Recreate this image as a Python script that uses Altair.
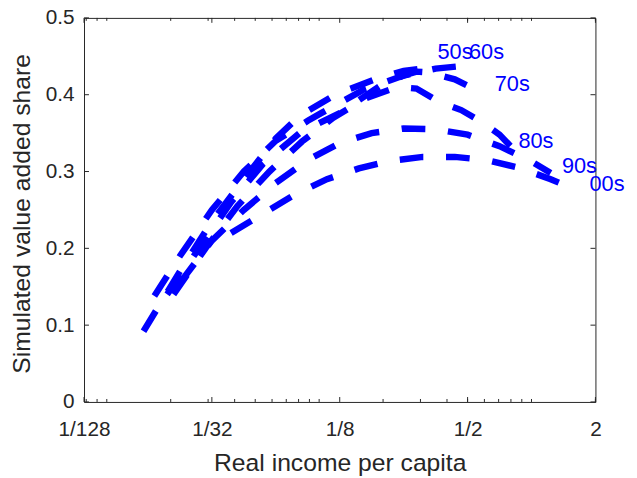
import altair as alt
import pandas as pd

# ---- data (relative income, simulated share) ----
inc_50s = [0.01489, 0.0221, 0.03125, 0.04419, 0.0625, 0.0813, 0.1207, 0.1961, 0.25, 0.35]
shr_50s = [0.092, 0.170, 0.235, 0.290, 0.343, 0.373, 0.401, 0.423, 0.431, 0.436]

inc_60s = [0.01675, 0.0221, 0.03125, 0.04419, 0.0625, 0.08839, 0.1022, 0.1604, 0.25, 0.3536, 0.5]
shr_60s = [0.138, 0.190, 0.250, 0.300, 0.340, 0.366, 0.376, 0.406, 0.425, 0.434, 0.438]

inc_70s = [0.01924, 0.0272, 0.03848, 0.05441, 0.08247, 0.125, 0.1975, 0.25, 0.2872, 0.3242, 0.4353, 0.5419, 0.6156]
shr_70s = [0.140, 0.200, 0.260, 0.310, 0.352, 0.376, 0.413, 0.425, 0.430, 0.429, 0.420, 0.407, 0.400]

inc_80s = [0.02062, 0.02916, 0.04123, 0.05831, 0.08302, 0.1166, 0.1649, 0.2333, 0.2872, 0.3648, 0.4665, 0.5715, 0.7071, 0.8706]
shr_80s = [0.140, 0.200, 0.255, 0.300, 0.339, 0.370, 0.395, 0.410, 0.408, 0.391, 0.380, 0.366, 0.348, 0.322]

inc_90s = [0.0221, 0.03125, 0.04419, 0.0625, 0.08839, 0.125, 0.1768, 0.25, 0.3536, 0.5, 0.7071, 1.0, 1.2311]
shr_90s = [0.155, 0.210, 0.250, 0.285, 0.315, 0.337, 0.350, 0.356, 0.355, 0.348, 0.333, 0.313, 0.298]

inc_00s = [0.03848, 0.05441, 0.07695, 0.1088, 0.1539, 0.2176, 0.3078, 0.4353, 0.6156, 0.8706, 1.2311, 1.6245]
shr_00s = [0.220, 0.245, 0.270, 0.290, 0.304, 0.314, 0.319, 0.319, 0.315, 0.305, 0.290, 0.276]

decades = ["50s", "60s", "70s", "80s", "90s", "00s"]
label_inc = [0.3610, 0.5078, 0.6714, 0.8675, 1.39, 1.875]
label_shr = [0.4557, 0.4557, 0.4132, 0.3393, 0.3072, 0.284]

x_major = [1/128, 1/32, 1/8, 1/2, 2]
x_minor = [0.008, 0.009, 0.01, 0.02, 0.03, 0.04, 0.05, 0.06, 0.07, 0.08, 0.09,
           0.1, 0.2, 0.3, 0.4, 0.5, 0.6, 0.7, 0.8, 0.9, 1.0, 2.0]
y_ticks = [0, 0.1, 0.2, 0.3, 0.4, 0.5]

W, H = 518, 389
FONT = "Liberation Sans"
AX = "#262626"

series = {
    "50s": (inc_50s, shr_50s), "60s": (inc_60s, shr_60s), "70s": (inc_70s, shr_70s),
    "80s": (inc_80s, shr_80s), "90s": (inc_90s, shr_90s), "00s": (inc_00s, shr_00s),
}
rows = []
for d in decades:
    xs, ys = series[d]
    for i, (a, b) in enumerate(zip(xs, ys)):
        rows.append({"decade": d, "income": a, "share": b, "i": i})
df = pd.DataFrame(rows)
lab = pd.DataFrame({"decade": decades, "income": label_inc, "share": label_shr})

xscale = alt.Scale(type="log", base=2, domain=[1/128, 2], nice=False)
yscale = alt.Scale(domain=[0, 0.5], nice=False)

xaxis = alt.Axis(
    values=x_major, title="Real income per capita", grid=False, ticks=False, domain=False,
    labelExpr="datum.value < 1 ? '1/' + format(round(1/datum.value), 'd') : format(datum.value, 'd')",
    labelFont=FONT, labelFontSize=21, labelColor=AX, labelPadding=17, labelFlush=False,
    titleFont=FONT, titleFontSize=25, titleFontWeight="normal", titleColor=AX,
    titleX=W / 2, titleY=69, titleBaseline="alphabetic", titleAnchor="middle",
)
yaxis = alt.Axis(
    values=y_ticks, title="Simulated value added share", grid=False, ticks=False, domain=False,
    labelFont=FONT, labelFontSize=21, labelColor=AX, labelPadding=10,
    labelExpr="datum.value == 0 ? '0' : format(datum.value, '.1f')",
    titleFont=FONT, titleFontSize=25, titleFontWeight="normal", titleColor=AX,
    titleX=-63, titleY=198, titleBaseline="middle", titleAnchor="middle", titleAngle=270,
)

lines = alt.Chart(df).mark_line(
    color="#0000ff", strokeWidth=6.5, strokeDash=[24, 23], strokeCap="butt", clip=False
).encode(
    x=alt.X("income:Q", scale=xscale, axis=xaxis),
    y=alt.Y("share:Q", scale=yscale, axis=yaxis),
    detail="decade:N",
    order="i:Q",
)

texts = alt.Chart(lab).mark_text(
    align="left", baseline="middle", font=FONT, fontSize=22, color="#0000ff"
).encode(
    x=alt.X("income:Q", scale=xscale),
    y=alt.Y("share:Q", scale=yscale),
    text="decade:N",
)

xmaj = pd.DataFrame({"v": x_major})
xmin = pd.DataFrame({"v": x_minor})
yt = pd.DataFrame({"v": y_ticks})

def xticks(data, length):
    base = alt.Chart(data).mark_rule(color=AX, strokeWidth=1)
    bot = base.encode(x=alt.X("v:Q", scale=xscale), y=alt.value(H), y2=alt.value(H - length))
    top = base.encode(x=alt.X("v:Q", scale=xscale), y=alt.value(0), y2=alt.value(length))
    return [bot, top]

ybase = alt.Chart(yt).mark_rule(color=AX, strokeWidth=1)
yl = ybase.encode(y=alt.Y("v:Q", scale=yscale), x=alt.value(0), x2=alt.value(5))
yr = ybase.encode(y=alt.Y("v:Q", scale=yscale), x=alt.value(W), x2=alt.value(W - 5))

chart = alt.layer(
    *xticks(xmin, 3), *xticks(xmaj, 5), yl, yr, lines, texts
).properties(
    width=W, height=H,
    autosize=alt.AutoSizeParams(type="none"),
    padding={"left": 77, "top": 7, "right": 34, "bottom": 74},
    background="white",
).configure_view(
    stroke=AX, strokeWidth=1
)

chart.save("out.html", embed_options={"renderer": "svg", "actions": False})
